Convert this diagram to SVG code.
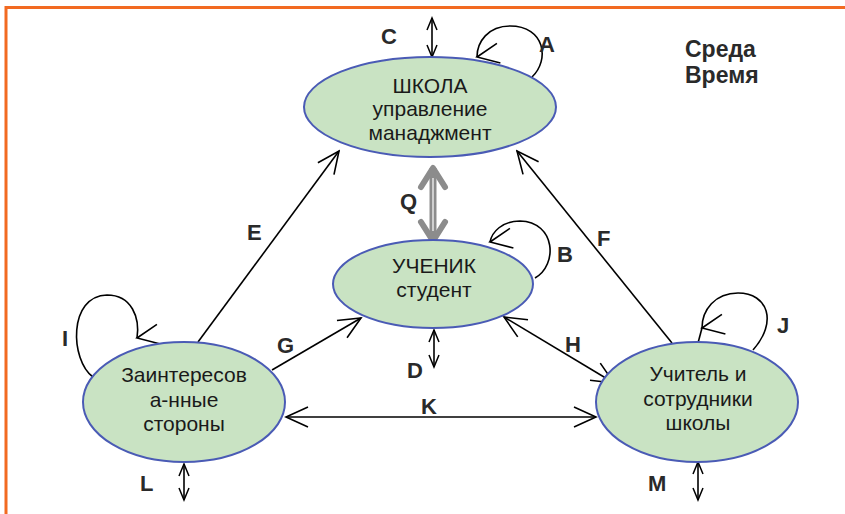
<svg xmlns="http://www.w3.org/2000/svg" width="845" height="514" viewBox="0 0 845 514">
<style>
.frame{fill:none;stroke:#F26A21;stroke-width:3}
.node{fill:#C9E3C3;stroke:#4A5BB5;stroke-width:2}
.nt{font-family:"Liberation Sans",Arial,sans-serif;font-size:21px;fill:#1a1a1a;text-anchor:middle}
.lb{font-family:"Liberation Sans",Arial,sans-serif;font-size:22px;font-weight:bold;fill:#2a2a2a}
.env{font-family:"Liberation Sans",Arial,sans-serif;font-size:23px;font-weight:bold;fill:#2a2a2a}
.c{fill:none;stroke:#000;stroke-width:1.6}
.big{marker-end:url(#ah)}
.loop{marker-end:url(#al)}
.dbl{marker-start:url(#ah);marker-end:url(#ah)}
.sm{marker-start:url(#as);marker-end:url(#as)}
</style>
<defs>
<marker id="ah" viewBox="-25 -13 27 26" refX="0" refY="0" markerWidth="27" markerHeight="26" markerUnits="userSpaceOnUse" orient="auto-start-reverse">
<path d="M-22,-10 L0,0 L-22,10" fill="none" stroke="#000" stroke-width="1.6"/>
</marker>
<marker id="al" viewBox="-25 -13 27 26" refX="0" refY="0" markerWidth="27" markerHeight="26" markerUnits="userSpaceOnUse" orient="170">
<path d="M-22,-10 L0,0 L-22,10" fill="none" stroke="#000" stroke-width="1.6"/>
</marker>
<marker id="as" viewBox="-15 -8 17 16" refX="0" refY="0" markerWidth="17" markerHeight="16" markerUnits="userSpaceOnUse" orient="auto-start-reverse">
<path d="M-12,-5 L0,0 L-12,5" fill="none" stroke="#000" stroke-width="1.5"/>
</marker>
<marker id="aq" viewBox="-28 -20 34 40" refX="0" refY="0" markerWidth="34" markerHeight="40" markerUnits="userSpaceOnUse" orient="auto-start-reverse">
<path d="M-19,-12 L0,0 L-19,12" fill="none" stroke="#8C8C8C" stroke-width="6" stroke-linecap="round" stroke-linejoin="round"/>
</marker>
</defs>
<rect width="845" height="514" fill="#fff"/>
<path class="frame" d="M6,514 L6,7.5 L845,7.5"/>

<g id="connectors">
<!-- E -->
<line class="c big" x1="198" y1="342" x2="339" y2="151"/>
<!-- F -->
<line class="c big" x1="672" y1="343" x2="517" y2="151"/>
<!-- G -->
<line class="c big" x1="272" y1="370" x2="361" y2="318"/>
<!-- H -->
<line class="c dbl" x1="614" y1="383" x2="504" y2="317"/>
<!-- K -->
<line class="c dbl" x1="286" y1="417" x2="596" y2="417"/>
<!-- Q -->
<line x1="433" y1="168" x2="433" y2="241" stroke="#8C8C8C" stroke-width="7" marker-start="url(#aq)" marker-end="url(#aq)"/>
<line x1="433" y1="178" x2="433" y2="231" stroke="#CFCFCF" stroke-width="2"/>
<!-- C D L M -->
<line class="c sm" x1="432" y1="18" x2="432" y2="57"/>
<line class="c sm" x1="434" y1="330" x2="434" y2="367"/>
<line class="c sm" x1="184" y1="464" x2="184" y2="500"/>
<line class="c sm" x1="698" y1="462" x2="698" y2="500"/>
<!-- loops A B I J -->
<path class="c loop" d="M532,77 C550,60 545,26 510,26 C488,26 477,42 477,57"/>
<path class="c loop" d="M535,278 C558,265 556,222 520,221 C502,221 492,232 490,242"/>
<path class="c loop" d="M93,377 C70,360 68,296 107,295 C132,295 140,318 137,338"/>
<path class="c loop" d="M753,350 C778,322 768,293 738,293 C715,293 702,310 702,328"/>
<line class="c" x1="702" y1="328" x2="698" y2="343"/>
</g>

<g id="school">
<ellipse class="node" cx="430" cy="107" rx="126" ry="50"/>
<text class="nt" x="430" y="93">ШКОЛА</text>
<text class="nt" x="430" y="116">управление</text>
<text class="nt" x="430" y="140">манаджмент</text>
</g>
<g id="student">
<ellipse class="node" cx="433" cy="284" rx="100" ry="44"/>
<text class="nt" x="434" y="273">УЧЕНИК</text>
<text class="nt" x="434" y="297">студент</text>
</g>
<g id="stakeholders">
<ellipse class="node" cx="184" cy="402" rx="101" ry="60"/>
<text class="nt" x="184" y="382">Заинтересов</text>
<text class="nt" x="184" y="407">а-нные</text>
<text class="nt" x="184" y="431">стороны</text>
</g>
<g id="teachers">
<ellipse class="node" cx="697" cy="402" rx="101" ry="60"/>
<text class="nt" x="698" y="381">Учитель и</text>
<text class="nt" x="698" y="406">сотрудники</text>
<text class="nt" x="698" y="430">школы</text>
</g>

<g id="labels">
<text class="lb" x="381" y="44">C</text>
<text class="lb" x="539" y="52">A</text>
<text class="lb" x="400" y="209">Q</text>
<text class="lb" x="557" y="262">B</text>
<text class="lb" x="247" y="240">E</text>
<text class="lb" x="597" y="246">F</text>
<text class="lb" x="62" y="346">I</text>
<text class="lb" x="277" y="353">G</text>
<text class="lb" x="565" y="352">H</text>
<text class="lb" x="407" y="378">D</text>
<text class="lb" x="421" y="414">K</text>
<text class="lb" x="777" y="333">J</text>
<text class="lb" x="140" y="491">L</text>
<text class="lb" x="648" y="491">M</text>
<text class="env" x="685" y="57">Среда</text>
<text class="env" x="685" y="83">Время</text>
</g>
</svg>
